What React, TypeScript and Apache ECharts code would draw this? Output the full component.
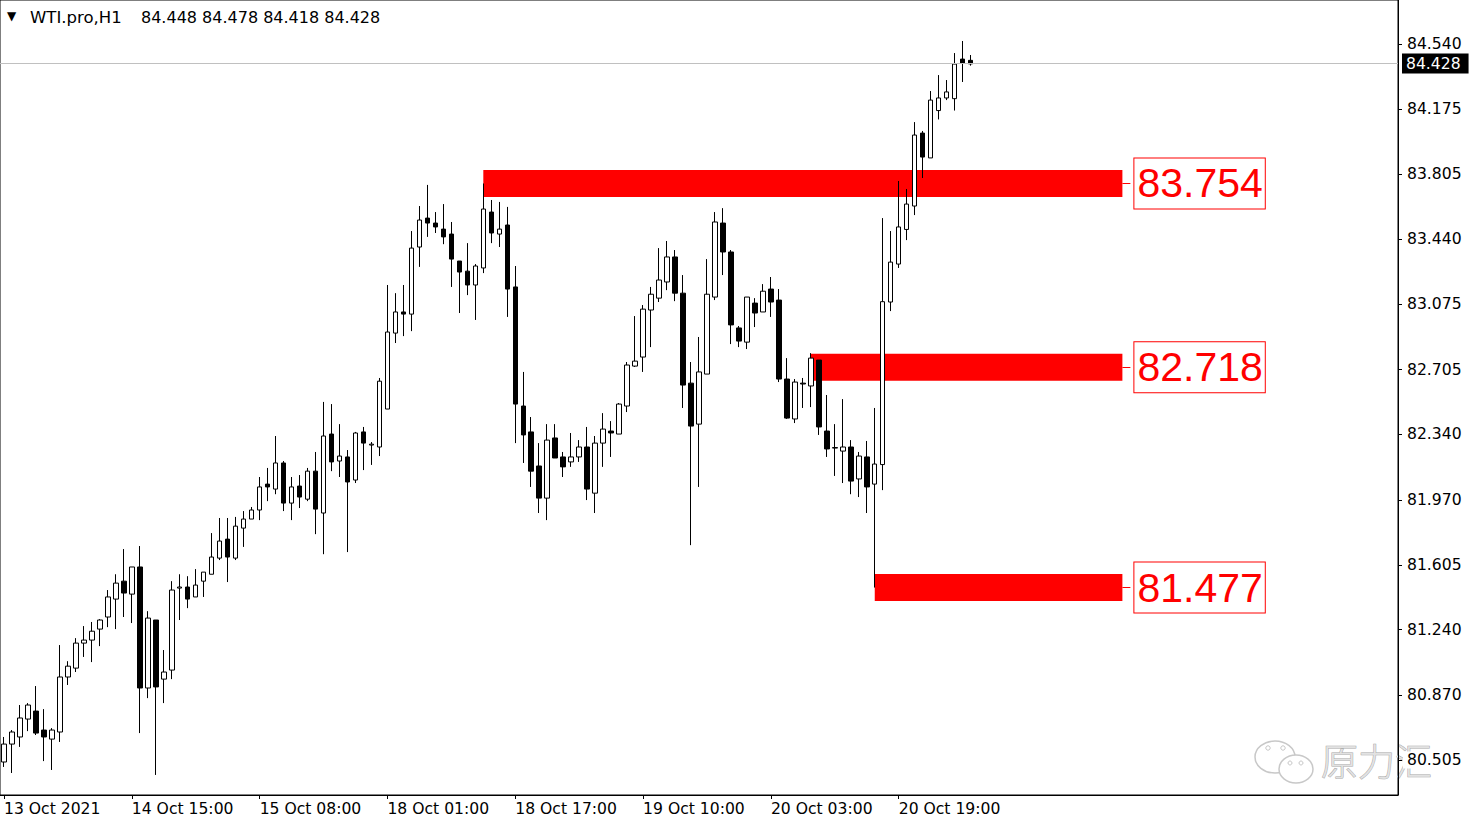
import React, { useEffect, useRef } from "react";
import * as echarts from "echarts";

// ---- Data (WTI.pro H1) ----
const opens = [
  80.494, 80.595, 80.635, 80.736, 80.781, 80.674, 80.623, 80.663, 80.973, 81.023,
  81.164, 81.181, 81.243, 81.311, 81.412, 81.513, 81.440, 81.593, 80.911, 81.294,
  80.961, 81.012, 81.474, 81.480, 81.424, 81.513, 81.552, 81.643, 81.750, 81.643,
  81.812, 81.863, 81.914, 82.060, 82.032, 82.179, 81.953, 82.049, 81.975, 82.133,
  81.897, 82.342, 82.190, 82.213, 82.083, 82.354, 82.280, 82.269, 82.483, 82.911,
  83.030, 83.018, 83.396, 83.559, 83.531, 83.497, 83.469, 83.317, 83.260, 83.182,
  83.278, 83.593, 83.469, 83.520, 83.171, 82.500, 82.354, 82.162, 81.981, 82.320,
  82.213, 82.185, 82.213, 82.269, 82.009, 82.291, 82.359, 82.342, 82.500, 82.725,
  82.776, 83.041, 83.108, 83.199, 83.340, 83.136, 82.629, 82.398, 82.680, 83.114,
  83.531, 83.368, 82.940, 82.860, 83.080, 83.030, 83.159, 83.097, 82.652, 82.427,
  82.629, 82.613, 82.759, 82.359, 82.263, 82.246, 82.269, 82.089, 82.213, 82.060,
  82.170, 83.086, 83.300, 83.495, 83.627, 84.038, 83.898, 84.165, 84.236, 84.232,
  84.455, 84.448,
];
const closes = [
  80.595, 80.663, 80.742, 80.815, 80.657, 80.635, 80.674, 80.973, 81.034, 81.164,
  81.181, 81.231, 81.294, 81.424, 81.502, 81.446, 81.593, 80.911, 81.305, 80.917,
  81.001, 81.463, 81.480, 81.412, 81.491, 81.564, 81.649, 81.739, 81.649, 81.823,
  81.863, 81.914, 82.044, 82.044, 82.179, 81.953, 82.044, 81.987, 82.133, 81.919,
  82.331, 82.185, 82.218, 82.072, 82.348, 82.291, 82.285, 82.640, 82.917, 83.030,
  83.018, 83.390, 83.548, 83.531, 83.509, 83.453, 83.328, 83.255, 83.182, 83.289,
  83.610, 83.475, 83.497, 83.159, 82.511, 82.337, 82.133, 81.981, 82.308, 82.207,
  82.157, 82.213, 82.269, 82.032, 82.291, 82.370, 82.348, 82.511, 82.731, 82.753,
  83.046, 83.130, 83.210, 83.340, 83.136, 82.618, 82.387, 82.692, 83.130, 83.537,
  83.368, 82.957, 82.866, 83.114, 83.024, 83.147, 83.086, 82.652, 82.432, 82.635,
  82.624, 82.770, 82.382, 82.258, 82.266, 82.269, 82.077, 82.218, 82.044, 82.173,
  83.088, 83.311, 83.509, 83.638, 84.027, 83.903, 84.224, 84.236, 84.270, 84.427,
  84.433, 84.428,
];
const lows = [
  80.466, 80.432, 80.579, 80.668, 80.646, 80.499, 80.449, 80.607, 80.928, 81.001,
  81.086, 81.057, 81.147, 81.254, 81.243, 81.311, 81.277, 80.657, 80.854, 80.421,
  80.826, 80.961, 81.294, 81.361, 81.424, 81.424, 81.552, 81.632, 81.508, 81.632,
  81.706, 81.863, 81.857, 81.964, 82.003, 81.908, 81.857, 81.925, 81.964, 81.778,
  81.665, 82.133, 82.100, 81.677, 82.066, 82.139, 82.168, 82.218, 82.483, 82.855,
  82.894, 82.922, 83.284, 83.453, 83.475, 83.412, 83.171, 83.024, 83.125, 82.985,
  83.249, 83.418, 83.396, 83.002, 82.291, 82.179, 82.044, 81.897, 81.857, 82.207,
  82.100, 82.157, 82.185, 81.970, 81.897, 82.157, 82.213, 82.342, 82.466, 82.720,
  82.692, 82.832, 83.086, 83.153, 83.091, 82.489, 81.716, 82.044, 82.680, 83.097,
  83.238, 82.849, 82.832, 82.821, 82.945, 83.030, 83.002, 82.635, 82.427, 82.404,
  82.489, 82.494, 82.337, 82.213, 82.106, 82.066, 82.003, 81.987, 81.897, 81.477,
  82.026, 83.035, 83.278, 83.435, 83.576, 83.785, 83.898, 84.115, 84.224, 84.165,
  84.326, 84.418,
];
const highs = [
  80.635, 80.674, 80.815, 80.826, 80.922, 80.792, 80.685, 81.153, 81.062, 81.192,
  81.260, 81.283, 81.299, 81.463, 81.552, 81.694, 81.593, 81.711, 81.344, 81.294,
  81.125, 81.513, 81.552, 81.541, 81.581, 81.564, 81.784, 81.869, 81.869, 81.875,
  81.908, 81.931, 82.100, 82.151, 82.331, 82.190, 82.100, 82.111, 82.151, 82.241,
  82.523, 82.511, 82.398, 82.252, 82.354, 82.382, 82.297, 82.658, 83.182, 83.136,
  83.182, 83.486, 83.627, 83.746, 83.593, 83.638, 83.537, 83.317, 83.418, 83.300,
  83.754, 83.661, 83.650, 83.622, 83.289, 82.692, 82.438, 82.291, 82.398, 82.398,
  82.241, 82.348, 82.308, 82.382, 82.331, 82.460, 82.415, 82.517, 82.748, 83.007,
  83.069, 83.171, 83.390, 83.430, 83.379, 83.238, 82.748, 82.889, 83.328, 83.593,
  83.615, 83.379, 82.951, 83.114, 83.108, 83.187, 83.227, 83.159, 82.770, 82.652,
  82.658, 82.798, 82.759, 82.562, 82.398, 82.539, 82.308, 82.241, 82.303, 82.489,
  83.559, 83.486, 83.768, 83.723, 84.100, 84.050, 84.275, 84.365, 84.337, 84.489,
  84.557, 84.478,
];

// x slots: 122 hourly bars followed by empty space on the right of the chart
const SLOT_COUNT = 175;
const slots = Array.from({ length: SLOT_COUNT }, (_, i) => String(i));
const TICK_STEP = 16;
const timeTickLabels = [
  "13 Oct 2021",
  "14 Oct 15:00",
  "15 Oct 08:00",
  "18 Oct 01:00",
  "18 Oct 17:00",
  "19 Oct 10:00",
  "20 Oct 03:00",
  "20 Oct 19:00",
];

const priceTicks = [
  84.54, 84.175, 83.805, 83.44, 83.075, 82.705, 82.34, 81.97, 81.605, 81.24, 80.87, 80.505,
];
const Y_MIN = 80.308;
const Y_MAX = 84.788;

// horizontal levels (red zones)
const levelValues = [83.754, 82.718, 81.477];
const levelStarts = [60, 101, 109];
const LEVEL_END = 140;
const LEVEL_HALF = 0.076;

const lastPrice = 84.428;
const headerSymbol = "WTI.pro,H1";
const headerOHLC = [84.448, 84.478, 84.418, 84.428];

export default function App() {
  const ref = useRef<HTMLDivElement>(null);

  useEffect(() => {
    document.body.style.margin = "0";
    if (!ref.current) return;
    const chart = echarts.init(ref.current, undefined, { renderer: "svg" });

    const candleData = opens.map((o, i) => [o, closes[i], lows[i], highs[i]]);
    const tickInterval = (index: number) =>
      index % TICK_STEP === 0 && index / TICK_STEP < timeTickLabels.length;

    const font = "DejaVu Sans";

    const option: any = {
      animation: false,
      backgroundColor: "#ffffff",
      textStyle: { fontFamily: font },
      grid: {
        left: 0,
        right: 83,
        top: 0,
        bottom: 32,
        show: true,
        borderColor: "#000",
        borderWidth: 1,
        backgroundColor: "#fff",
      },
      xAxis: {
        type: "category",
        data: slots,
        boundaryGap: true,
        axisLine: { show: true, lineStyle: { color: "#000", width: 1 } },
        axisTick: {
          show: true,
          alignWithLabel: true,
          interval: tickInterval,
          length: 4,
          lineStyle: { color: "#000" },
        },
        axisLabel: {
          interval: tickInterval,
          formatter: (_v: string, i: number) => timeTickLabels[i / TICK_STEP] ?? "",
          align: "left",
          color: "#000",
          fontSize: 15.6,
          lineHeight: 16,
          margin: 6,
          fontFamily: font,
        },
        splitLine: { show: false },
      },
      yAxis: {
        type: "value",
        position: "right",
        min: Y_MIN,
        max: Y_MAX,
        z: 3,
        axisLine: { show: true, lineStyle: { color: "#000", width: 1 } },
        axisTick: {
          show: true,
          customValues: priceTicks,
          length: 4,
          lineStyle: { color: "#000" },
        },
        axisLabel: {
          customValues: priceTicks,
          formatter: (v: number) => v.toFixed(3),
          color: "#000",
          fontSize: 15.6,
          lineHeight: 16,
          margin: 5,
          backgroundColor: "#fff",
          padding: [1, 3, 0, 4],
          fontFamily: font,
        },
        splitLine: { show: false },
      },
      graphic: [
        {
          type: "text",
          x: 7,
          y: 16,
          z: 10,
          style: {
            text: "▼",
            fontSize: 12,
            fontFamily: font,
            fill: "#000",
            verticalAlign: "middle",
          },
        },
        {
          type: "text",
          x: 30,
          y: 17,
          z: 10,
          style: {
            text: headerSymbol,
            fontSize: 16.5,
            fontFamily: font,
            fill: "#000",
            verticalAlign: "middle",
          },
        },
        {
          type: "text",
          x: 141,
          y: 17,
          z: 10,
          style: {
            text: headerOHLC.map((v) => v.toFixed(3)).join(" "),
            fontSize: 16,
            fontFamily: font,
            fill: "#000",
            verticalAlign: "middle",
          },
        },
        {
          type: "group",
          x: 0,
          y: 0,
          z: 1,
          children: [
            {
              type: "ellipse",
              shape: { cx: 1275, cy: 757, rx: 20, ry: 16 },
              style: { fill: "#fff", stroke: "#c8c8c8", lineWidth: 1.5 },
            },
            {
              type: "circle",
              shape: { cx: 1268, cy: 748, r: 2.2 },
              style: { fill: "#fff", stroke: "#c8c8c8", lineWidth: 1 },
            },
            {
              type: "circle",
              shape: { cx: 1283, cy: 748, r: 2.2 },
              style: { fill: "#fff", stroke: "#c8c8c8", lineWidth: 1 },
            },
            {
              type: "ellipse",
              shape: { cx: 1296, cy: 769, rx: 17, ry: 14 },
              style: { fill: "#fff", stroke: "#c8c8c8", lineWidth: 1.5 },
            },
            {
              type: "circle",
              shape: { cx: 1290, cy: 763, r: 2 },
              style: { fill: "#fff", stroke: "#c8c8c8", lineWidth: 1 },
            },
            {
              type: "circle",
              shape: { cx: 1301, cy: 763, r: 2 },
              style: { fill: "#fff", stroke: "#c8c8c8", lineWidth: 1 },
            },
            {
              type: "text",
              x: 1321,
              y: 760,
              style: {
                text: "原力汇",
                fontSize: 37,
                fontFamily: "Noto Sans CJK SC",
                fontWeight: 300,
                fill: "#e2e2e2",
                stroke: "#a8a8a8",
                lineWidth: 1,
                verticalAlign: "middle",
              },
            },
          ],
        },
      ],
      series: [
        {
          type: "line",
          name: "levels",
          data: [],
          z: 1,
          silent: true,
          showSymbol: false,
          markArea: {
            silent: true,
            itemStyle: { color: "#ff0000", opacity: 1, borderWidth: 0 },
            label: { show: false },
            data: levelValues.map((v, k) => [
              { xAxis: levelStarts[k], yAxis: v + LEVEL_HALF },
              { xAxis: LEVEL_END, yAxis: v - LEVEL_HALF },
            ]),
          },
          markLine: {
            silent: true,
            symbol: ["none", "none"],
            animation: false,
            data: [
              ...levelValues.map((v) => [
                {
                  coord: [LEVEL_END, v],
                  lineStyle: { color: "#ff0000", width: 1, type: "solid" },
                  label: {
                    show: true,
                    position: "end",
                    distance: 4,
                    formatter: v.toFixed(3),
                    color: "#ff0000",
                    fontSize: 41,
                    lineHeight: 45,
                    fontFamily: "Liberation Sans",
                    backgroundColor: "#fff",
                    borderColor: "#ff0000",
                    borderWidth: 1,
                    padding: [3, 2, 2, 3],
                  },
                },
                { coord: [LEVEL_END + 1, v] },
              ]),
              {
                yAxis: lastPrice,
                lineStyle: { color: "#c0c0c0", width: 1, type: "solid" },
                label: {
                  show: true,
                  position: "end",
                  distance: 4,
                  formatter: lastPrice.toFixed(3),
                  color: "#fff",
                  fontSize: 15.6,
                  lineHeight: 16,
                  fontFamily: font,
                  backgroundColor: "#000",
                  padding: [2, 8, 2, 4],
                },
              },
            ],
          },
        },
        {
          type: "candlestick",
          name: "WTI.pro",
          z: 2,
          data: candleData,
          barWidth: 5,
          itemStyle: {
            color: "#ffffff",
            color0: "#000000",
            borderColor: "#000000",
            borderColor0: "#000000",
            borderWidth: 1,
          },
        },
      ],
    };

    chart.setOption(option);
    return () => {
      chart.dispose();
    };
  }, []);

  return <div ref={ref} style={{ width: 1481, height: 827 }} />;
}
